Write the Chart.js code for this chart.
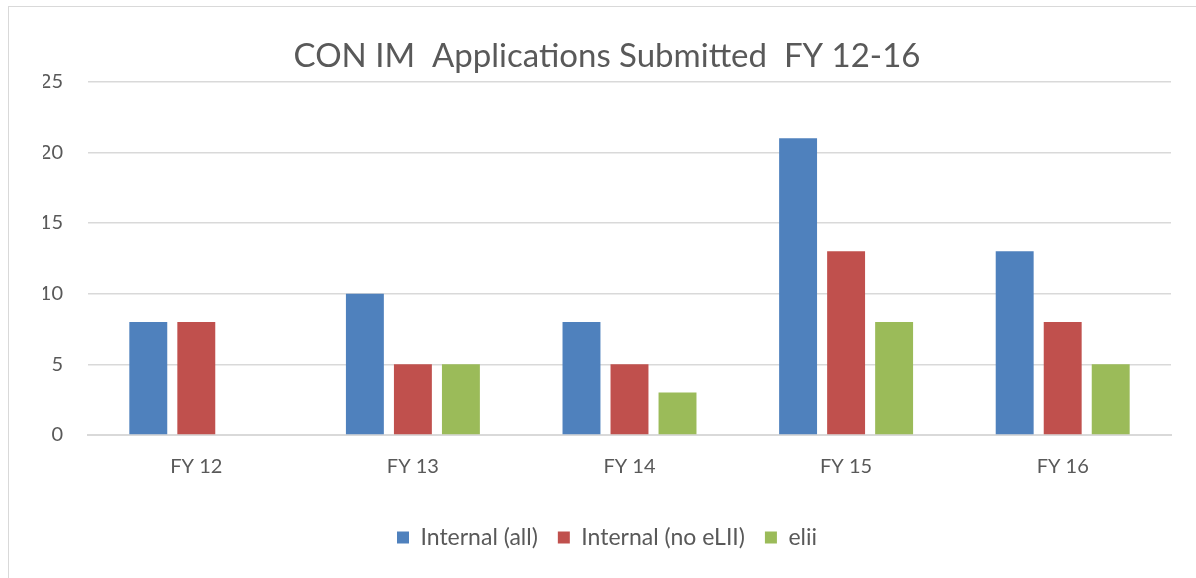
<!DOCTYPE html>
<html>
<head>
<meta charset="utf-8">
<script src="https://cdn.jsdelivr.net/npm/chart.js@4"></script>
<style>
  html, body { margin: 0; padding: 0; background: #fff; overflow: hidden; }
  #frame {
    position: absolute; left: 8px; top: 6px; width: 1400px; height: 800px;
    border: 1px solid #d9d9d9; box-sizing: border-box;
  }
  #wrap { position: absolute; left: 0; top: 0; width: 1196px; height: 578px; }
</style>
</head>
<body>
<div id="frame"></div>
<div id="wrap"><canvas id="appsChart" width="1196" height="578"></canvas></div>
<script>
const YEARS = ["FY 12", "FY 13", "FY 14", "FY 15", "FY 16"];
const INTERNAL_ALL = [8, 10, 8, 21, 13];
const INTERNAL_NO_ELII = [8, 5, 5, 13, 8];
const ELII = [0, 5, 3, 8, 5];
const Y_TICKS = [0, 5, 10, 15, 20, 25];

const TEXT = "#595959";
const FONT = "Lato, 'Open Sans', sans-serif";

function series(label, data, color) {
  return {
    label: label,
    data: data,
    backgroundColor: color,
    borderWidth: 0,
    categoryPercentage: 0.665,
    barPercentage: 0.79
  };
}

const ctx = document.getElementById("appsChart").getContext("2d");
new Chart(ctx, {
  type: "bar",
  data: {
    labels: YEARS,
    datasets: [
      series("Internal (all)", INTERNAL_ALL, "#4f81bd"),
      series("Internal (no eLII)", INTERNAL_NO_ELII, "#c0504d"),
      series("elii", ELII, "#9bbb59")
    ]
  },
  options: {
    responsive: false,
    animation: false,
    layout: { padding: { left: 43, right: 25, top: 0, bottom: 19 } },
    plugins: {
      title: {
        display: true,
        text: "CON IM  Applications Submitted  FY 12-16",
        color: TEXT,
        font: { family: FONT, size: 33, weight: "normal" },
        padding: { top: 37, bottom: 5 }
      },
      legend: {
        position: "bottom",
        labels: {
          color: TEXT,
          font: { family: FONT, size: 23 },
          boxWidth: 12,
          boxHeight: 12,
          padding: 20
        }
      },
      tooltip: { enabled: false }
    },
    scales: {
      x: {
        afterFit: function (scale) { scale.height = 71; },
        grid: { display: false, drawTicks: false },
        border: { color: "#d9d9d9", width: 2 },
        ticks: { color: TEXT, font: { family: FONT, size: 20 }, padding: 20 }
      },
      y: {
        min: 0,
        max: 25,
        afterBuildTicks: function (scale) {
          scale.ticks = Y_TICKS.map(v => ({ value: v }));
        },
        afterFit: function (scale) { scale.width = 45; },
        grid: { color: "#d9d9d9", lineWidth: 1.5, drawTicks: false },
        border: { display: false },
        ticks: { color: TEXT, font: { family: FONT, size: 20 }, padding: 25 }
      }
    }
  }
});
</script>
</body>
</html>
